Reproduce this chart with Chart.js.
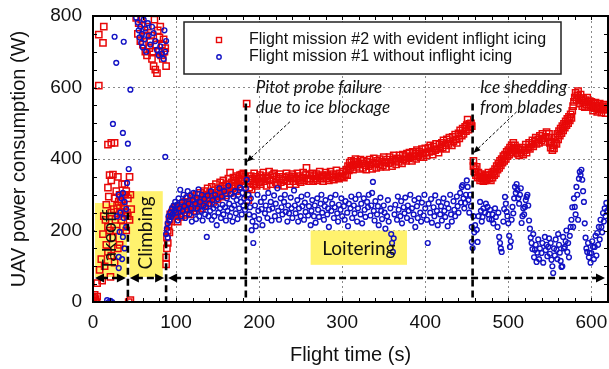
<!DOCTYPE html>
<html>
<head>
<meta charset="utf-8">
<script src="https://cdn.jsdelivr.net/npm/chart.js@4.4.0/dist/chart.umd.min.js"></script>
<style>
  body { margin: 0; background: #fff; }
  #chart { display: block; }
</style>
</head>
<body>
<canvas id="chart" width="609" height="369"></canvas>
<script>
// Flight mission #2 (with inflight icing): [time s, power W]
const redTakeoff = [
  [0,12],[1,4],[2,20],[3,8],[4,0],[5,15],[7,605],[7,748],[12,725],[13,770],
  [5,53],[8,90],[10,120],[11,60],[12,190],[13,240],[14,100],[15,230],[16,160],[16,272],
  [18,140],[18,210],[18,320],[18,440],[19,295],[20,200],[20,355],[21,70],[22,130],[22,250],
  [22,340],[22,445],[24,180],[24,356],[25,260],[26,110],[26,290],[26,445],[27,230],[28,200],
  [28,310],[29,270],[30,150],[30,240],[30,350],[31,280],[32,160],[32,300],[33,250],[34,230],
  [34,280],[35,330],[36,210],[36,300],[37,270],[38,260],[38,330],[39,300],[40,200],[40,310],
  [41,250],[42,240],[42,290],[43,0],[44,350],[44,230],[45,300],[46,260],[45,5]
];
const redClimb = [
  [52,795],[55,780],[58,790],[62,760],[66,770],[70,745],[74,790],[78,760],[80,740],[83,720],
  [85,735],[87,710],[54,750],[57,730],[60,720],[63,700],[65,690],[68,710],[71,680],[73,660],
  [75,650],[77,640],[79,700],[82,690],[84,680],[86,700],[88,660],[69,730],[76,720],[81,770],
  [64,745],[72,700],
  [88,105],[88,125],[89,150],[89,180],[90,200],[90,165],[91,215],[92,230],[92,195],[93,245],
  [94,225],[95,250],[96,240],[97,260],[98,245],[99,265]
];
const redLoiter = [
  [100,240],[101,255],[102,225],[103,262],[104,248],[105,270],[106,238],[107,258],[108,275],[109,244],
  [110,262],[111,280],[112,250],[113,268],[114,290],[115,258],[116,275],[117,245],[118,282],[119,265],
  [120,296],[121,270],[122,255],[123,285],[124,272],[125,300],[126,262],[127,288],[128,275],[129,305],
  [130,280],[131,262],[132,295],[133,283],[134,310],[135,270],[136,298],[137,286],[138,318],[139,292],
  [140,275],[141,305],[142,290],[143,322],[144,300],[145,280],[146,312],[147,296],[148,330],[149,305],
  [150,288],[151,318],[152,300],[153,335],[154,310],[155,295],[156,325],[157,340],[158,305],[159,318],
  [160,298],[161,330],[162,312],[163,345],[164,320],[165,362],[166,305],[167,335],[168,318],[169,348],
  [170,325],[171,340],[172,310],[173,352],[174,330],[175,345],[176,322],[177,355],[178,338],[179,356],
  [180,342],[181,360],[182,330],[183,350],[185,555],[186,300],[187,285],[188,320],[189,340],[190,352],
  [191,315],[192,345],[193,330],[194,360],[195,338],[196,350],[197,325],[198,345],[200,335],[201,355],
  [202,330],[204,348],[205,362],[206,338],[208,352],[209,325],[210,345],[212,365],[213,340],[214,330],
  [216,355],[217,342],[218,360],[220,335],[221,350],[222,328],[224,345],[225,358],[226,335],[228,350],
  [229,340],[230,325],[232,348],[233,360],[234,338],[236,352],[237,330],[238,345],[240,358],[241,338],
  [242,350],[244,330],[245,345],[246,360],[248,340],[249,352],[250,335],[252,348],[253,362],[254,340],
  [256,355],[257,375],[258,345],[260,338],[261,355],[262,345],[264,360],[265,338],[266,352],[268,345],
  [269,358],[270,340],[272,352],[273,365],[274,345],[276,355],[277,338],[278,350],[280,362],[281,345],
  [282,355],[284,340],[285,352],[286,365],[288,348],[289,358],[290,342],[292,355],[293,368],[294,350],
  [296,345],[297,360],[298,350],[300,352],[301,365],[302,348],[304,358],[305,370],[306,355],[307,380],
  [308,368],[309,390],[310,375],[311,395],[312,382],[313,370],[314,392],[315,385],[316,400],[317,378],
  [318,392],[320,385],[321,372],[322,398],[324,388],[325,375],[326,395],[328,382],[329,370],[330,392],
  [332,380],[333,398],[334,385],[336,372],[337,390],[338,402],[340,388],[341,375],[342,395],[344,385],
  [345,400],[346,378],[348,392],[349,382],[350,405],[352,390],[353,378],[354,398],[356,388],[357,405],
  [358,392],[360,380],[361,398],[362,410],[364,395],[365,385],[366,402],[368,392],[369,410],[370,400],
  [372,388],[373,412],[374,398],[376,408],[377,395],[378,415],[380,402],[381,418],[382,405],[384,395],
  [385,420],[386,408],[388,415],[389,400],[390,425],[392,410],[393,420],[394,405],[396,428],[397,415],
  [398,405],[400,430],[401,418],[402,410],[404,432],[405,420],[406,438],[408,422],[409,412],[410,435],
  [412,425],[413,442],[414,428],[416,418],[417,440],[418,430],[420,445],[421,432],[422,452],[424,438],
  [425,428],[426,455],[428,442],[429,460],[430,448],[432,438],[433,462],[434,450],[436,468],[437,455],
  [438,445],[440,472],[441,458],[442,480],[444,465],[445,485],[446,470],[448,490],[449,478],[450,495],
  [451,510],[452,482],[453,498],[454,488],[455,500],[456,492],
  [458,380],[458,395],[459,365],[460,372],[461,355],[462,378],[463,348],[464,362],[465,350],[466,340],
  [467,358],[468,345],[469,352],[470,338],[471,348],[472,340],[473,355],[474,342],[475,348],[476,362],
  [477,345],[478,355],[479,340],[480,358],[481,348],[482,365],[483,355],[484,372],[485,360],[486,380],
  [487,370],[488,388],[489,375],[490,395],[491,382],[492,400],[493,390],[494,408],[495,395],[496,412],
  [497,400],[498,420],[499,408],[500,425],[501,412],[502,432],[503,418],[504,438],[505,425],[506,445],
  [507,430],[508,438],[509,420],[510,432],[511,415],[512,428],[513,410],[514,425],[516,418],[517,432],
  [518,412],[520,425],[521,440],[522,418],[524,432],[525,445],[526,428],[528,440],[529,452],[530,435],
  [532,448],[533,460],[534,442],[536,455],[537,445],[538,465],[540,452],[541,470],[542,458],[544,448],
  [545,462],[546,475],[548,460],[549,470],[550,445],[551,432],[552,448],[553,425],[554,438],[555,430],
  [556,445],[557,460],[558,442],[559,470],[560,455],[561,478],[562,465],[563,485],[564,472],[565,492],
  [566,480],[567,498],[568,488],[569,505],[570,495],[571,512],[572,500],[573,518],[574,508],[575,525],
  [576,515],[577,535],[578,548],[579,560],[580,572],[581,585],[582,565],[583,578],[584,590],[585,570],
  [586,555],[587,580],[588,565],[589,548],[590,570],[591,558],[592,545],[593,565],[594,552],[595,572],
  [596,560],[597,545],[598,562],[599,550],[600,560],[601,548],[602,535],[603,555],[604,542],[605,558],
  [606,545],[607,532],[608,550],[609,538],[610,555],[611,542],[612,530],[613,548],[614,538],[615,552],
  [616,540],[617,528],[618,545],[619,538]
];

// Flight mission #1 (no icing): [time s, power W]
const blueTakeoff = [
  [17,5],[19,0],[21,3],[23,0],
  [26,742],[37,728],[28,669],[45,594],[24,498],[36,473],[42,443],
  [43,372],[41,333],[36,305],[31,300],[34,290],[38,280],[40,260],[33,250],[29,240],
  [37,235],[32,196],[36,182],[31,126],[31,95],[38,150],[35,120],[40,210]
];
const blueClimb = [
  [52,795],[54,782],[55,760],[56,740],[57,770],[58,725],[59,750],[60,712],[61,790],[62,735],
  [63,765],[64,700],[66,780],[67,745],[69,720],[71,770],[73,752],[75,730],[77,705],[79,690],
  [81,715],[83,695],[85,680],[87,700],[86,760],[88,730],
  [87,406],[88,190],[89,205],[90,180],[90,220],[91,240],[92,228],[93,250],[94,238],[95,262],
  [96,245],[97,270],[98,255],[99,280]
];
const blueLoiter = [
  [100,250],[101,272],[102,228],[103,290],[104,262],[105,314],[106,240],[107,280],[108,255],[109,300],
  [110,268],[111,235],[112,292],[113,258],[114,310],[115,275],[116,245],[117,298],[118,262],[119,225],
  [120,285],[121,305],[122,250],[123,275],[124,232],[125,292],[126,262],[127,315],[128,240],[129,280],
  [130,255],[131,300],[132,228],[133,270],[134,288],[135,245],[136,265],[137,182],[138,298],[139,240],
  [140,275],[141,255],[142,310],[143,230],[144,285],[145,262],[146,240],[147,300],[148,270],[149,215],
  [150,288],[151,250],[152,318],[153,262],[154,235],[155,295],[156,272],[157,245],[158,310],[159,265],
  [160,228],[161,290],[162,255],[163,325],[164,275],[165,240],[166,302],[167,262],[168,225],[169,295],
  [170,270],[171,310],[172,248],[173,285],[174,232],[175,300],[176,262],[177,320],[178,280],[179,245],
  [180,305],[181,270],[182,290],[183,258],[184,318],[185,342],[186,280],[187,300],[188,245],[189,265],
  [190,290],[191,201],[192,225],[193,165],[194,240],[195,270],[196,212],[198,300],[199,255],[200,232],
  [202,280],[203,260],[204,215],[206,292],[207,248],[208,270],[210,235],[211,305],[212,258],[214,280],
  [215,228],[216,262],[218,298],[219,240],[220,275],[222,318],[223,255],[224,230],[226,290],[227,265],
  [228,245],[230,280],[231,300],[232,252],[234,225],[235,270],[236,248],[238,292],[239,262],[240,235],
  [242,312],[243,270],[244,248],[246,285],[247,225],[248,262],[250,240],[251,295],[252,268],[254,230],
  [255,278],[256,252],[258,300],[259,242],[260,268],[262,215],[263,255],[264,285],[266,240],[267,270],
  [268,222],[270,290],[271,258],[272,238],[274,275],[275,300],[276,250],[278,230],[279,268],[280,285],
  [282,245],[283,262],[284,210],[286,292],[287,255],[288,275],[290,235],[291,265],[292,300],[294,248],
  [295,225],[296,272],[298,258],[299,290],[300,240],[302,268],[303,230],[304,282],[306,250],[307,212],
  [308,275],[310,262],[311,295],[312,235],[314,270],[315,248],[316,288],[318,225],[319,262],[320,300],
  [322,245],[323,275],[324,220],[326,290],[327,258],[328,238],[330,280],[331,265],[332,300],[334,242],
  [335,270],[336,305],[337,336],[338,255],[339,228],[340,282],[342,245],[343,268],[344,215],[346,292],
  [347,255],[348,232],[350,270],[351,250],[352,205],[354,240],[355,285],[356,225],[358,262],[359,190],
  [360,165],[361,140],[362,178],[363,245],[364,272],[366,230],[367,295],[368,258],[370,240],[371,282],
  [372,220],[374,265],[375,248],[376,292],[378,235],[379,270],[380,255],[382,300],[383,228],[384,262],
  [386,245],[387,285],[388,210],[390,268],[391,235],[392,290],[394,250],[395,225],[396,278],[398,242],
  [399,300],[400,262],[402,230],[403,165],[404,275],[406,250],[407,288],[408,222],[410,265],[411,240],
  [412,298],[414,255],[415,215],[416,280],[418,245],[419,268],[420,228],[422,290],[423,255],[424,238],
  [426,275],[427,212],[428,262],[430,300],[431,245],[432,225],[434,282],[435,258],[436,240],[438,295],
  [439,268],[440,250],[442,305],[443,278],[444,322],[445,327],[446,290],[447,262],[448,277],[449,300],
  [450,340],[451,322],[452,285],[453,250],[454,300],[455,268],[456,210],[456,168],[457,151],[458,240],
  [459,195],[460,215],
  [462,202],[463,168],[464,240],[466,280],[467,255],[468,225],[469,238],[470,262],[472,250],[473,275],
  [475,266],[476,245],[477,232],[478,258],[480,230],[481,245],[482,220],[484,262],[485,238],[487,210],
  [488,250],[489,182],[490,165],[491,150],[492,140],[494,225],[495,260],[496,294],[497,275],[498,252],
  [499,240],[500,220],[501,185],[502,154],[503,170],[504,230],[505,266],[506,248],[507,290],[508,322],
  [509,305],[510,330],[511,314],[512,290],[513,275],[514,300],[515,318],[516,221],[517,240],[518,262],
  [519,245],[520,266],[521,285],[522,294],[523,300],[524,270],[525,228],[526,205],[527,180],[528,165],
  [529,148],[530,190],[531,125],[532,146],[533,160],[534,112],[535,138],[536,175],[537,120],[538,150],
  [540,137],[541,165],[542,110],[544,182],[545,145],[546,160],[547,128],[548,154],[549,178],[550,135],
  [551,165],[552,118],[553,100],[554,81],[555,150],[556,130],[557,175],[558,146],[559,120],[560,190],
  [561,160],[562,138],[563,115],[564,98],[565,100],[566,182],[567,150],[568,154],[569,170],[570,200],
  [571,140],[572,165],[573,125],[574,185],[575,210],[576,230],[577,265],[578,210],[579,290],[580,266],
  [581,245],[582,322],[583,300],[584,230],[585,345],[586,364],[587,355],[588,370],[589,342],[590,310],
  [591,280],[592,220],[593,180],[594,150],[595,140],[596,165],[597,125],[598,137],[599,110],[600,137],
  [601,170],[602,154],[603,120],[604,154],[605,185],[606,130],[607,193],[608,160],[609,210],[610,175],
  [611,230],[612,210],[613,195],[614,249],[615,225],[616,262],[617,240],[618,277],[619,255]
];

const seriesNames = [
  'Flight mission #2 with evident inflight icing',
  'Flight mission #1 without inflight icing'
];
const xTickValues = [0, 100, 200, 300, 400, 500, 600];
const yTickValues = [0, 200, 400, 600, 800];
const phaseNames = ['Takeoff', 'Climbing', 'Loitering'];
const phaseEdges = [0, 42, 88, 620];   // s
const pitotTime = 184;                 // s
const sheddingTime = 457;              // s
const eventNotes = [
  ['Pitot probe failure', 'due to ice blockage'],
  ['Ice shedding', 'from blades']
];

const RED = 'rgb(232,8,8)';
const BLUE = 'rgb(18,18,196)';
const YELLOW = '#fff26e';
const NOTE_FONT = 'Lato, "Open Sans", sans-serif';

const toXY = arr => arr.map(([x, y]) => ({ x, y }));

function dashedLine(ctx, x0, y0, x1, y1, dash, width) {
  ctx.save();
  ctx.setLineDash(dash);
  ctx.lineWidth = width;
  ctx.beginPath();
  ctx.moveTo(x0, y0);
  ctx.lineTo(x1, y1);
  ctx.stroke();
  ctx.restore();
}

function arrowHead(ctx, x, y, angle, len, half) {
  ctx.save();
  ctx.translate(x, y);
  ctx.rotate(angle);
  ctx.beginPath();
  ctx.moveTo(0, 0);
  ctx.lineTo(-len, -half);
  ctx.lineTo(-len, half);
  ctx.closePath();
  ctx.fill();
  ctx.restore();
}

const overlay = {
  id: 'overlay',
  beforeDatasetsDraw(chart) {
    const { ctx, scales: { x, y } } = chart;
    // yellow backgrounds behind the phase names
    const boxes = [[2.4, 41, 70, 277], [44, 84, 70, 310], [262, 378, 104, 200]];
    ctx.save();
    ctx.fillStyle = YELLOW;
    boxes.forEach(([t0, t1, w0, w1]) => {
      const x0 = x.getPixelForValue(t0), x1 = x.getPixelForValue(t1);
      const y0 = y.getPixelForValue(w1), y1 = y.getPixelForValue(w0);
      ctx.fillRect(x0, y0, x1 - x0, y1 - y0);
    });
    ctx.restore();
  },
  afterDatasetsDraw(chart) {
    const { ctx, chartArea: a, scales: { x, y } } = chart;
    ctx.save();
    ctx.strokeStyle = '#000';
    ctx.fillStyle = '#000';

    // phase boundaries and event markers
    const vlines = [[phaseEdges[1], 250], [phaseEdges[2], 170], [pitotTime, 555], [sheddingTime, 555]];
    vlines.forEach(([t, top]) => {
      const px = x.getPixelForValue(t);
      dashedLine(ctx, px, y.getPixelForValue(top), px, a.bottom, [7, 4], 2.6);
    });

    // double arrows spanning each phase
    const ay = y.getPixelForValue(67);
    for (let i = 0; i < 3; i++) {
      const x0 = x.getPixelForValue(phaseEdges[i]) + 2;
      const x1 = x.getPixelForValue(phaseEdges[i + 1]) - (i === 2 ? 3 : 2);
      dashedLine(ctx, x0 + 6, ay, x1 - 6, ay, [7, 4], 2.4);
      arrowHead(ctx, x0, ay, Math.PI, 9, 4.5);
      arrowHead(ctx, x1, ay, 0, 9, 4.5);
    }

    // callout arrows
    const callouts = [[237, 504, pitotTime + 1, 392], [510, 532, sheddingTime + 1, 417]];
    callouts.forEach(([t0, w0, t1, w1]) => {
      const x0 = x.getPixelForValue(t0), y0 = y.getPixelForValue(w0);
      const x1 = x.getPixelForValue(t1), y1 = y.getPixelForValue(w1);
      dashedLine(ctx, x0, y0, x1, y1, [3, 2], 1);
      arrowHead(ctx, x1, y1, Math.atan2(y1 - y0, x1 - x0), 7, 3);
    });

    // callout notes
    ctx.fillStyle = '#111';
    ctx.font = 'italic 17px ' + NOTE_FONT;
    ctx.textBaseline = 'middle';
    ctx.textAlign = 'left';
    [[196, eventNotes[0]], [466, eventNotes[1]]].forEach(([t, lines]) => {
      const px = x.getPixelForValue(t);
      ctx.fillText(lines[0], px, y.getPixelForValue(601));
      ctx.fillText(lines[1], px, y.getPixelForValue(543));
    });

    // phase names
    ctx.font = '19px ' + NOTE_FONT;
    ctx.textAlign = 'center';
    [[20.5, 173], [64, 193]].forEach(([t, w], i) => {
      ctx.save();
      ctx.translate(x.getPixelForValue(t), y.getPixelForValue(w));
      ctx.rotate(-Math.PI / 2);
      ctx.fillText(phaseNames[i], 0, 0);
      ctx.restore();
    });
    ctx.fillText(phaseNames[2], x.getPixelForValue(320), y.getPixelForValue(150));

    // legend
    const lx = 184, ly = 22, lw = 377, lh = 52;
    ctx.fillStyle = '#fff';
    ctx.fillRect(lx, ly, lw, lh);
    ctx.lineWidth = 1.5;
    ctx.strokeStyle = '#222';
    ctx.strokeRect(lx, ly, lw, lh);
    ctx.lineWidth = 1.4;
    ctx.strokeStyle = RED;
    ctx.strokeRect(216.5, 37.5, 5, 5);
    ctx.strokeStyle = BLUE;
    ctx.beginPath();
    ctx.arc(219, 57, 2.2, 0, Math.PI * 2);
    ctx.stroke();
    ctx.fillStyle = '#111';
    ctx.font = '16px "Liberation Sans", Arial, sans-serif';
    ctx.textAlign = 'left';
    ctx.fillText(seriesNames[0], 249, 40);
    ctx.fillText(seriesNames[1], 249, 57);

    // frame and minor ticks
    ctx.strokeStyle = '#000';
    ctx.lineWidth = 2;
    ctx.strokeRect(a.left, a.top, a.right - a.left, a.bottom - a.top);
    ctx.lineWidth = 1;
    ctx.beginPath();
    for (let t = 0; t <= 620; t += 20) {
      const px = Math.round(x.getPixelForValue(t)) + 0.5;
      ctx.moveTo(px, a.bottom); ctx.lineTo(px, a.bottom - 4);
      ctx.moveTo(px, a.top); ctx.lineTo(px, a.top + 4);
    }
    for (let w = 0; w <= 800; w += 50) {
      const py = Math.round(y.getPixelForValue(w)) + 0.5;
      ctx.moveTo(a.left, py); ctx.lineTo(a.left + 4, py);
      ctx.moveTo(a.right, py); ctx.lineTo(a.right - 4, py);
    }
    ctx.stroke();
    ctx.restore();
  }
};

Chart.defaults.font.family = '"Liberation Sans", Arial, sans-serif';
Chart.defaults.color = '#111';

const gridColor = (edgeMin, edgeMax) => c =>
  (c.tick && (c.tick.value === edgeMin || c.tick.value >= edgeMax)) ? 'rgba(0,0,0,0)' : '#8a8a8a';

// the axis boxes are sized by hand so the plot area stays put
const fixX = s => { s.height = 67; s.paddingLeft = 0; s.paddingRight = 0; };
const fixY = s => { s.width = 93; s.paddingTop = 0; s.paddingBottom = 0; };

new Chart(document.getElementById('chart'), {
  type: 'scatter',
  data: {
    datasets: [
      {
        label: seriesNames[1],
        data: toXY([...blueTakeoff, ...blueClimb, ...blueLoiter]),
        pointStyle: 'circle',
        pointRadius: 2.4,
        borderWidth: 1.4,
        borderColor: BLUE,
        backgroundColor: 'rgba(0,0,0,0)'
      },
      {
        label: seriesNames[0],
        data: toXY([...redTakeoff, ...redClimb, ...redLoiter]),
        pointStyle: 'rect',
        pointRadius: 4.4,
        borderWidth: 1.5,
        borderColor: RED,
        backgroundColor: 'rgba(0,0,0,0)'
      }
    ]
  },
  options: {
    responsive: false,
    animation: false,
    devicePixelRatio: 1,
    layout: { autoPadding: false, padding: { top: 16, right: 1, left: 0, bottom: 0 } },
    plugins: { legend: { display: false }, tooltip: { enabled: false } },
    scales: {
      x: {
        type: 'linear',
        min: 0,
        max: 620,
        afterBuildTicks: s => { s.ticks = xTickValues.map(value => ({ value })); },
        afterFit: fixX,
        ticks: { padding: 9, font: { size: 19 } },
        grid: { color: gridColor(0, 620), lineWidth: 1, drawTicks: false },
        border: { display: false, dash: [2, 3] },
        title: { display: true, text: 'Flight time (s)', font: { size: 20 }, padding: { bottom: 2 } }
      },
      y: {
        min: 0,
        max: 800,
        afterBuildTicks: s => { s.ticks = yTickValues.map(value => ({ value })); },
        afterFit: fixY,
        ticks: { padding: 11, font: { size: 19 } },
        grid: { color: gridColor(0, 800), lineWidth: 1, drawTicks: false },
        border: { display: false, dash: [2, 3] },
        title: { display: true, text: 'UAV power consumption (W)', font: { size: 20 }, padding: { top: 7 } }
      }
    }
  },
  plugins: [overlay]
});
</script>
</body>
</html>
